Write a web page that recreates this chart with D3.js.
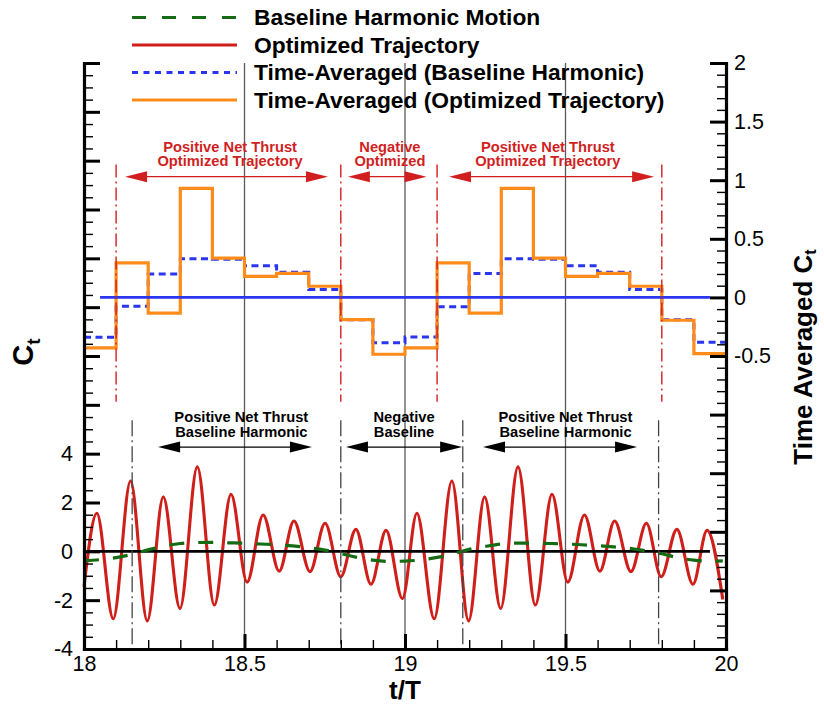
<!DOCTYPE html>
<html>
<head>
<meta charset="utf-8">
<script src="https://cdn.jsdelivr.net/npm/d3@7"></script>
<style>
  html, body { margin: 0; padding: 0; background: #fff; }
  svg { display: block; font-family: "Liberation Sans", Arial, sans-serif; }
</style>
</head>
<body>
<svg id="chart" width="824" height="705"></svg>
<script>
// ---- Instantaneous thrust coefficient, optimized trajectory (local extrema) ----
const optT = [18.0, 18.04, 18.091, 18.145, 18.197, 18.247, 18.299, 18.353, 18.406, 18.458,
  18.508, 18.558, 18.608, 18.654, 18.704, 18.751, 18.8, 18.847, 18.894, 18.941,
  18.992, 19.037, 19.091, 19.146, 19.198, 19.248, 19.298, 19.352, 19.406, 19.458,
  19.507, 19.559, 19.607, 19.653, 19.704, 19.752, 19.798, 19.847, 19.897, 19.941, 19.99];
const optCt = [-1.45, 1.56, -2.76, 2.88, -2.85, 2.23, -2.34, 3.46, -2.2, 2.34,
  -1.26, 1.49, -0.81, 1.24, -0.83, 1.15, -1.04, 0.9, -1.35, 0.86,
  -1.94, 1.56, -2.76, 2.88, -2.85, 2.23, -2.34, 3.46, -2.2, 2.34,
  -1.26, 1.49, -0.81, 1.24, -0.83, 1.15, -1.04, 0.9, -1.35, 0.86, -1.97];

// ---- Instantaneous thrust coefficient, baseline harmonic motion ----
const baseT = [18.00, 18.05, 18.10, 18.15, 18.20, 18.25, 18.30, 18.35, 18.40, 18.45,
  18.50, 18.55, 18.60, 18.65, 18.70, 18.75, 18.80, 18.85, 18.90, 18.95,
  19.00, 19.05, 19.10, 19.15, 19.20, 19.25, 19.30, 19.35, 19.40, 19.45,
  19.50, 19.55, 19.60, 19.65, 19.70, 19.75, 19.80, 19.85, 19.90, 19.95, 19.99];
const baseCt = [-0.38, -0.34, -0.26, -0.12, 0.06, 0.22, 0.32, 0.36, 0.37, 0.35,
  0.33, 0.30, 0.27, 0.22, 0.15, 0.05, -0.09, -0.25, -0.36, -0.41,
  -0.40, -0.35, -0.25, -0.10, 0.08, 0.20, 0.30, 0.34, 0.34, 0.32,
  0.30, 0.27, 0.23, 0.18, 0.12, 0.02, -0.10, -0.26, -0.36, -0.40, -0.39];

// ---- Time-averaged Ct over each 0.1 T window ----
const avgStart = [18.0, 18.1, 18.2, 18.3, 18.4, 18.5, 18.6, 18.7, 18.8, 18.9,
  19.0, 19.1, 19.2, 19.3, 19.4, 19.5, 19.6, 19.7, 19.8, 19.9];
const avgEnd = 20.0;
const optAvg = [-0.43, 0.295, -0.135, 0.93, 0.335, 0.18, 0.205, 0.095, -0.19, -0.485,
  -0.43, 0.295, -0.135, 0.93, 0.335, 0.18, 0.205, 0.095, -0.195, -0.48];
const baseAvg = [-0.34, -0.075, 0.2, 0.33, 0.325, 0.27, 0.215, 0.068, -0.19, -0.386,
  -0.338, -0.08, 0.204, 0.33, 0.325, 0.27, 0.215, 0.068, -0.19, -0.383];

// ---- Thrust regions ----
const optRegionFrom = [18.128, 18.822, 19.137];
const optRegionTo = [18.76, 19.067, 19.776];
const optRegionMid = [18.455, 18.953, 19.445];
const optRegionLabels = [["Positive Net Thrust", "Optimized Trajectory"], ["Negative", "Optimized"], ["Positive Net Thrust", "Optimized Trajectory"]];
const optSwitchT = [18.1, 18.8, 19.1, 19.8];

const baseRegionFrom = [18.231, 18.816, 19.243];
const baseRegionTo = [18.71, 19.178, 19.723];
const baseRegionMid = [18.49, 18.997, 19.5];
const baseRegionLabels = [["Positive Net Thrust", "Baseline Harmonic"], ["Negative", "Baseline"], ["Positive Net Thrust", "Baseline Harmonic"]];
const baseSwitchT = [18.15, 18.8, 19.18, 19.79];

// ---- Axes ticks ----
const xMajor = [18, 18.5, 19, 19.5, 20];
const leftLabelled = [-4, -2, 0, 2, 4];
const rightLabelled = [-0.5, 0, 0.5, 1, 1.5, 2];

const legendLabels = ["Baseline Harmonic Motion", "Optimized Trajectory",
  "Time-Averaged (Baseline Harmonic)", "Time-Averaged (Optimized Trajectory)"];

// ---- Layout ----
const svg = d3.select("#chart");
const X0 = 84, X1 = 726, Y0 = 649, Y1 = 63;
const x = d3.scaleLinear([18, 20], [X0, X1]);
const yL = d3.scaleLinear([-4, 20], [Y0, Y1]);
const yR = d3.scaleLinear([-3, 2], [Y0, Y1]);

const C = {
  red: "#cf1f1a", green: "#146b14", blue: "#2a36ee", orange: "#ff8c1a",
  annRed: "#d11f1f", grid: "#5a5a5a"
};

svg.append("rect").attr("width", 824).attr("height", 705).attr("fill", "#fff");

// vertical grid at the labelled time ticks
svg.append("g").selectAll("line").data([18.5, 19, 19.5]).join("line")
  .attr("x1", d => x(d)).attr("x2", d => x(d))
  .attr("y1", Y1).attr("y2", Y0)
  .attr("stroke", C.grid).attr("stroke-width", 1.3);

// time-averaged steps
const stepLine = (vals, scale) => d3.line()
  .x(d => x(d[0])).y(d => scale(d[1]))
  .curve(d3.curveStepAfter)(avgStart.map((t, i) => [t, vals[i]]).concat([[avgEnd, vals[vals.length - 1]]]));

svg.append("path").attr("d", stepLine(baseAvg, yR))
  .attr("fill", "none").attr("stroke", C.blue).attr("stroke-width", 3)
  .attr("stroke-dasharray", "7,4.5");
svg.append("path").attr("d", stepLine(optAvg, yR))
  .attr("fill", "none").attr("stroke", C.orange).attr("stroke-width", 3.2);

// zero reference of the averaged axis
svg.append("line").attr("x1", x(18.05)).attr("x2", x(19.95))
  .attr("y1", yR(0)).attr("y2", yR(0))
  .attr("stroke", C.blue).attr("stroke-width", 2.6);

// instantaneous Ct
const curve = d3.line().x(d => x(d[0])).y(d => yL(d[1])).curve(d3.curveMonotoneX);
svg.append("path").attr("d", curve(optT.map((t, i) => [t, optCt[i]])))
  .attr("fill", "none").attr("stroke", C.red).attr("stroke-width", 3.1)
  .attr("stroke-linejoin", "round");

svg.append("line").attr("x1", x(18)).attr("x2", x(19.95))
  .attr("y1", yL(0)).attr("y2", yL(0))
  .attr("stroke", "#000").attr("stroke-width", 2.6);

svg.append("path").attr("d", curve(baseT.map((t, i) => [t, baseCt[i]])))
  .attr("fill", "none").attr("stroke", C.green).attr("stroke-width", 3.2)
  .attr("stroke-dasharray", "15,14");

// switching instants (dash-dot)
svg.append("g").selectAll("line").data(optSwitchT).join("line")
  .attr("x1", d => x(d)).attr("x2", d => x(d))
  .attr("y1", yR(1.135)).attr("y2", yR(-0.89))
  .attr("stroke", C.annRed).attr("stroke-width", 1.4)
  .attr("stroke-dasharray", "13,4,2,4");
svg.append("g").selectAll("line").data(baseSwitchT).join("line")
  .attr("x1", d => x(d)).attr("x2", d => x(d))
  .attr("y1", yL(5.37)).attr("y2", yL(-4))
  .attr("stroke", "#444").attr("stroke-width", 1.3)
  .attr("stroke-dasharray", "16,4,2,4");

// double-headed region arrows with two-line captions
function regionArrows(from, to, mid, labels, yPix, color) {
  const g = svg.append("g");
  const head = 22, half = 5.5;
  from.forEach((f, i) => {
    const a = x(f), b = x(to[i]);
    g.append("line").attr("x1", a + head - 2).attr("x2", b - head + 2)
      .attr("y1", yPix).attr("y2", yPix).attr("stroke", color).attr("stroke-width", 1.2);
    g.append("path").attr("d", `M${a},${yPix}L${a + head},${yPix - half}L${a + head},${yPix + half}Z`).attr("fill", color);
    g.append("path").attr("d", `M${b},${yPix}L${b - head},${yPix - half}L${b - head},${yPix + half}Z`).attr("fill", color);
    g.selectAll(null).data(labels[i]).join("text")
      .attr("x", x(mid[i])).attr("y", (d, k) => yPix - 25 + k * 14.5)
      .attr("text-anchor", "middle").attr("font-weight", "bold")
      .attr("font-size", 14.7).attr("fill", color).text(d => d);
  });
}
regionArrows(optRegionFrom, optRegionTo, optRegionMid, optRegionLabels, yR(1.03), C.annRed);
regionArrows(baseRegionFrom, baseRegionTo, baseRegionMid, baseRegionLabels, yL(4.27), "#000");

// ---- Axes ----
function styleAxis(g, major) {
  g.selectAll(".tick line").attr("stroke", "#000").attr("stroke-width", major ? 3 : 1.4);
  g.selectAll(".tick text").attr("fill", "#000").attr("font-size", 21.5)
    .attr("font-family", "Liberation Sans, Arial, sans-serif");
}
// left
svg.append("g").attr("transform", `translate(${X0},0)`)
  .call(d3.axisLeft(yL).tickValues(d3.range(-4, 20.01, 0.5)).tickSize(-9).tickSizeOuter(0).tickFormat(""))
  .call(g => { g.select(".domain").remove(); styleAxis(g, false); });
svg.append("g").attr("transform", `translate(${X0},0)`)
  .call(d3.axisLeft(yL).tickValues(d3.range(-4, 21, 2)).tickSize(-16).tickSizeOuter(0).tickPadding(11)
    .tickFormat(d => leftLabelled.includes(d) ? String(d) : ""))
  .call(g => { g.select(".domain").attr("stroke-width", 3.2).attr("stroke-linecap", "square"); styleAxis(g, true); });
// right
svg.append("g").attr("transform", `translate(${X1},0)`)
  .call(d3.axisRight(yR).tickValues(d3.range(-30, 21, 1).map(v => v / 10)).tickSize(-9).tickSizeOuter(0).tickFormat(""))
  .call(g => { g.select(".domain").remove(); styleAxis(g, false); });
svg.append("g").attr("transform", `translate(${X1},0)`)
  .call(d3.axisRight(yR).tickValues(d3.range(-6, 5, 1).map(v => v / 2)).tickSize(-16).tickSizeOuter(0).tickPadding(8)
    .tickFormat(d => rightLabelled.includes(d) ? String(d) : ""))
  .call(g => { g.select(".domain").attr("stroke-width", 3.2).attr("stroke-linecap", "square"); styleAxis(g, true); });
// bottom
svg.append("g").attr("transform", `translate(0,${Y0})`)
  .call(d3.axisBottom(x).tickValues(d3.range(180, 201, 1).map(v => v / 10)).tickSize(-9).tickSizeOuter(0).tickFormat(""))
  .call(g => { g.select(".domain").remove(); styleAxis(g, false); });
svg.append("g").attr("transform", `translate(0,${Y0})`)
  .call(d3.axisBottom(x).tickValues(xMajor).tickSize(-15).tickSizeOuter(0).tickPadding(7)
    .tickFormat(d => String(d)))
  .call(g => { g.select(".domain").attr("stroke-width", 3.2).attr("stroke-linecap", "square"); styleAxis(g, true); });

// ---- Axis titles ----
svg.append("text").attr("x", (X0 + X1) / 2).attr("y", 699)
  .attr("text-anchor", "middle").attr("font-weight", "bold").attr("font-size", 26)
  .text("t/T");

const leftTitle = svg.append("text")
  .attr("transform", "translate(33,352) rotate(-90)")
  .attr("text-anchor", "middle").attr("font-weight", "bold").attr("font-size", 29);
leftTitle.append("tspan").text("C");
leftTitle.append("tspan").attr("font-size", 19).attr("dy", 7).text("t");

const rightTitle = svg.append("text")
  .attr("transform", "translate(812,357) rotate(-90)")
  .attr("text-anchor", "middle").attr("font-weight", "bold").attr("font-size", 26);
rightTitle.append("tspan").text("Time Averaged C");
rightTitle.append("tspan").attr("font-size", 16).attr("dy", 4).text("t");

// ---- Legend ----
const legendStyles = [
  { color: C.green, width: 3.2, dash: "14,16" },
  { color: C.red, width: 3, dash: null },
  { color: C.blue, width: 3, dash: "6,5.5" },
  { color: C.orange, width: 3, dash: null }
];
const lg = svg.append("g");
legendLabels.forEach((label, i) => {
  const yy = 17.5 + i * 27.5;
  lg.append("line").attr("x1", 132).attr("x2", 237).attr("y1", yy).attr("y2", yy)
    .attr("stroke", legendStyles[i].color).attr("stroke-width", legendStyles[i].width)
    .attr("stroke-dasharray", legendStyles[i].dash);
  lg.append("text").attr("x", 254).attr("y", yy + 7.8)
    .attr("font-weight", "bold").attr("font-size", 22.8).attr("fill", "#000").text(label);
});
</script>
</body>
</html>
